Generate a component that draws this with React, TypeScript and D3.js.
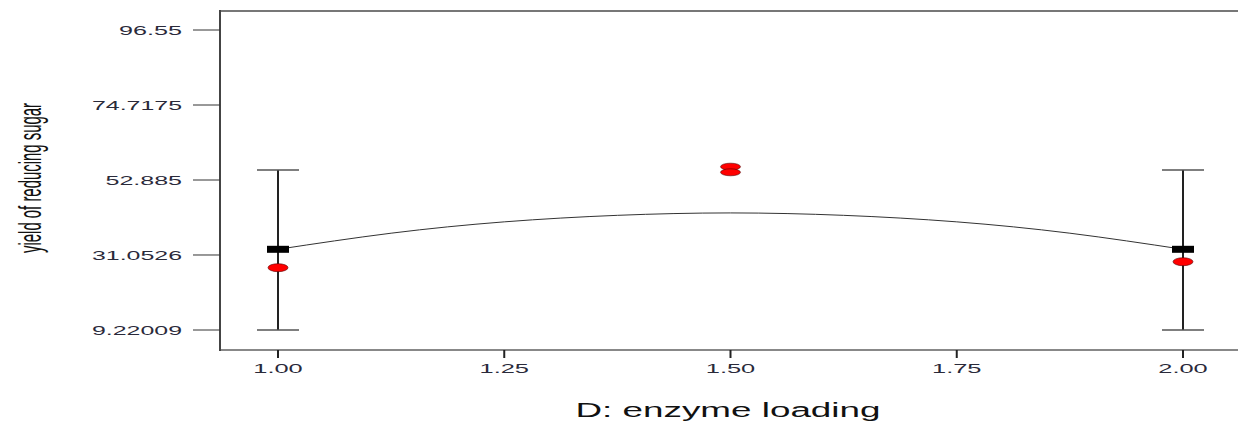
import React from "react";
import * as d3 from "d3";

const yTicks = [9.22009, 31.0526, 52.885, 74.7175, 96.55];
const xTicks = [1.0, 1.25, 1.5, 1.75, 2.0];
const xTickLabels = ["1.00", "1.25", "1.50", "1.75", "2.00"];
const yTickLabels = ["9.22009", "31.0526", "52.885", "74.7175", "96.55"];

// predicted mean points with error bars (LSD bars)
const meanX = [1.0, 2.0];
const meanY = [32.71, 32.71];
const barLow = [9.22, 9.22];
const barHigh = [55.8, 55.8];

// observed design points
const obsX = [1.0, 1.5, 1.5, 2.0];
const obsY = [27.36, 56.76, 55.13, 29.1];

// fitted curve
const curveX = [1.0, 1.125, 1.25, 1.375, 1.5, 1.625, 1.75, 1.875, 2.0];
const curveY = [32.71, 37.4, 40.7, 42.6, 43.3, 42.6, 40.7, 37.4, 32.71];

const W = 1238;
const H = 424;
const left = 220;
const top = 11;
const bottom = 350;

function numLen(s: string) {
  let n = 0;
  for (const c of s) n += c === "." ? 9 : 13.5;
  return n;
}

export default function App() {
  const x = d3.scaleLinear().domain([1, 2]).range([278, 1183]);
  const y = d3.scaleLinear().domain([9.22009, 96.55]).range([330, 30]);
  const line = d3
    .line<number>()
    .x((_, i) => x(curveX[i]))
    .y((d) => y(d))
    .curve(d3.curveNatural);
  const textColor = "#2a2a3a";
  return (
    <svg
      width={W}
      height={H}
      style={{ position: "absolute", left: 0, top: 0, background: "#fff" }}
    >
      {/* frame */}
      <line x1={left} x2={W} y1={top} y2={top} stroke="#777" strokeWidth={2} />
      <line x1={left} x2={W} y1={bottom} y2={bottom} stroke="#888" strokeWidth={2} />
      <line x1={left} x2={left} y1={top - 1} y2={bottom + 1} stroke="#444" strokeWidth={2} />

      {/* y ticks */}
      {yTicks.map((t, i) => (
        <g key={"y" + i}>
          <line x1={193} x2={left} y1={y(t)} y2={y(t)} stroke="#333" strokeWidth={1} />
          <text
            x={182}
            y={y(t) + 5}
            textAnchor="end"
            fontFamily="Liberation Sans, Arial, sans-serif"
            fontSize={13}
            fill={textColor}
            textLength={numLen(yTickLabels[i])}
            lengthAdjust="spacingAndGlyphs"
          >
            {yTickLabels[i]}
          </text>
        </g>
      ))}

      {/* x ticks */}
      {xTicks.map((t, i) => (
        <g key={"x" + i}>
          <line x1={x(t)} x2={x(t)} y1={bottom} y2={bottom + 8} stroke="#222" strokeWidth={2} />
          <text
            x={x(t)}
            y={373}
            textAnchor="middle"
            fontFamily="Liberation Sans, Arial, sans-serif"
            fontSize={13}
            fill={textColor}
            textLength={numLen(xTickLabels[i])}
            lengthAdjust="spacingAndGlyphs"
          >
            {xTickLabels[i]}
          </text>
        </g>
      ))}

      {/* axis titles */}
      <text
        x={728}
        y={417}
        textAnchor="middle"
        fontFamily="Liberation Sans, Arial, sans-serif"
        fontSize={20}
        fill="#111"
        textLength={305}
        lengthAdjust="spacingAndGlyphs"
      >
        D: enzyme loading
      </text>
      <text
        transform={`translate(41,178) rotate(-90) scale(0.481,1)`}
        textAnchor="middle"
        fontFamily="Liberation Sans, Arial, sans-serif"
        fontSize={31}
        fill="#111"
      >
        yield of reducing sugar
      </text>

      {/* curve */}
      <path d={line(curveY) || ""} fill="none" stroke="#333" strokeWidth={1} />

      {/* error bars */}
      {meanX.map((mx, i) => (
        <g key={"e" + i}>
          <line x1={x(mx)} x2={x(mx)} y1={y(barLow[i])} y2={y(barHigh[i])} stroke="#222" strokeWidth={2} />
          <line x1={x(mx) - 21} x2={x(mx) + 21} y1={y(barLow[i])} y2={y(barLow[i])} stroke="#555" strokeWidth={1.5} />
          <line x1={x(mx) - 21} x2={x(mx) + 21} y1={y(barHigh[i])} y2={y(barHigh[i])} stroke="#555" strokeWidth={1.5} />
          <rect x={x(mx) - 11} y={y(meanY[i]) - 3.5} width={22} height={7} fill="#000" />
        </g>
      ))}

      {/* observed points */}
      {obsX.map((ox, i) => (
        <ellipse
          key={"o" + i}
          cx={x(ox)}
          cy={y(obsY[i])}
          rx={10}
          ry={obsX.filter((v) => v === ox).length > 1 ? 3.5 : 4}
          fill="#ff0000"
          stroke="#550000"
          strokeWidth={0.6}
        />
      ))}
    </svg>
  );
}
